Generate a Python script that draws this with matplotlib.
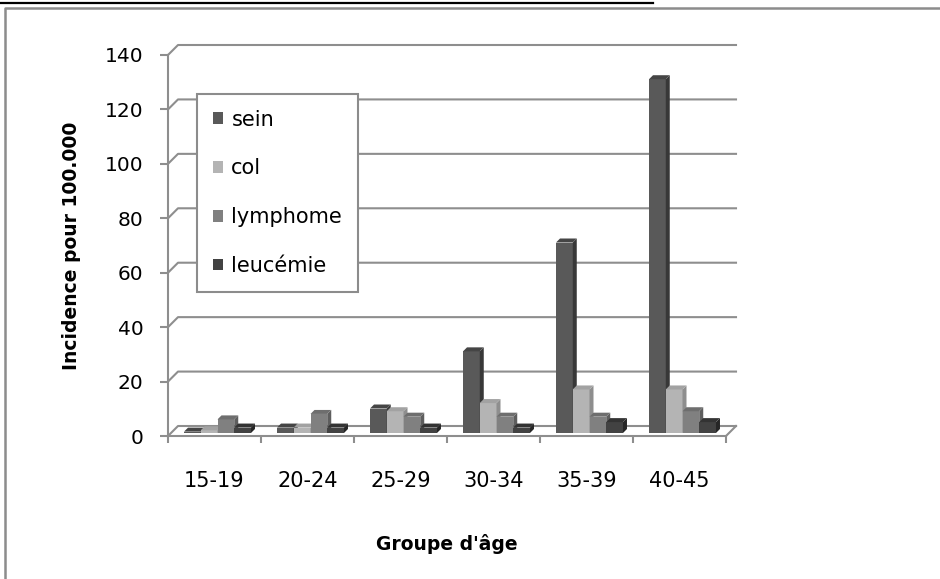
import matplotlib
matplotlib.use("Agg")
import matplotlib.pyplot as plt
from matplotlib.patches import Polygon, Patch
from matplotlib.lines import Line2D
from matplotlib.transforms import IdentityTransform

# ---------------------------------------------------------------------------
# Data
# ---------------------------------------------------------------------------
age_groups = ["15-19", "20-24", "25-29", "30-34", "35-39", "40-45"]
sein = [0.5, 2, 9, 30, 70, 130]
col = [1, 2, 8, 11, 16, 16]
lymphome = [5, 7, 6, 6, 6, 8]
leucemie = [2, 2, 2, 2, 4, 4]
series_names = ["sein", "col", "lymphome", "leucémie"]
y_ticks = [0, 20, 40, 60, 80, 100, 120, 140]

# colours: front face, side face, top face
front_colors = ["#595959", "#b4b4b4", "#808080", "#424242"]
side_colors = ["#383838", "#8e8e8e", "#5e5e5e", "#262626"]
top_colors = ["#454545", "#a2a2a2", "#6e6e6e", "#333333"]
GRID = "#8e8e8e"

plt.rcParams["font.family"] = "DejaVu Sans"

W, H = 940, 579
fig = plt.figure(figsize=(W / 100, H / 100), dpi=100)
fig.patch.set_facecolor("white")

# outer frame + cut-off underline of the caption above the chart
fig.add_artist(Line2D([0, 653 / W], [1 - 2.5 / H] * 2, transform=fig.transFigure,
                      color="black", lw=1.6))
fig.add_artist(Line2D([5 / W, 5 / W, 1], [0, 1 - 8 / H, 1 - 8 / H],
                      transform=fig.transFigure, color="#8c8c8c", lw=1.8))

ax = fig.add_axes([168 / W, 1 - 436 / H, 558 / W, 381 / H])
ax.set_xlim(0, len(age_groups))
ax.set_ylim(0, 140)
ax.patch.set_visible(False)
for s in ["top", "right"]:
    ax.spines[s].set_visible(False)
for s in ["left", "bottom"]:
    ax.spines[s].set_color(GRID)
    ax.spines[s].set_linewidth(1.5)
    ax.spines[s].set_zorder(1)

ax.set_yticks(y_ticks)
ax.tick_params(axis="y", direction="out", length=5.8, width=1.5, color=GRID,
               labelsize=14.5, pad=12)
ax.set_xticks([i + 0.5 for i in range(len(age_groups))])
ax.set_xticklabels(age_groups)
ax.set_xticks(range(len(age_groups) + 1), minor=True)
ax.tick_params(axis="x", which="major", length=0, labelsize=15, pad=25)
ax.tick_params(axis="x", which="minor", direction="out", length=5, width=1.5,
               color=GRID)

ax.set_xlabel("Groupe d'âge", fontsize=13.5, fontweight="bold", labelpad=31)
ax.set_ylabel("Incidence pour 100.000", fontsize=13.5, fontweight="bold", labelpad=17)

# ---------------------------------------------------------------------------
# Pseudo-3D: back wall gridlines, floor, bars
# ---------------------------------------------------------------------------
DEPTH = 10            # floor depth in pixels (right and up)
BAR_FRONT, BAR_BACK = 3, 7


def px(x, y):
    return ax.transData.transform((x, y))


def draw_line(pts, z=1):
    ax.add_line(Line2D([p[0] for p in pts], [p[1] for p in pts],
                       transform=IdentityTransform(), color=GRID, lw=1.5,
                       zorder=z, clip_on=False))


def draw_poly(pts, color, z):
    ax.add_patch(Polygon(pts, closed=True, facecolor=color, edgecolor="none",
                         transform=IdentityTransform(), zorder=z, clip_on=False))


n_cat = len(age_groups)
for v in y_ticks:
    x0, y0 = px(0, v)
    x1, y1 = px(n_cat, v)
    draw_line([(x0, y0), (x0 + DEPTH, y0 + DEPTH), (x1 + DEPTH, y1 + DEPTH)])
# right edge of the floor
xr, yr = px(n_cat, 0)
draw_line([(xr, yr), (xr + DEPTH, yr + DEPTH)])

series = [sein, col, lymphome, leucemie]
bar_w = 0.18
start = (1 - bar_w * len(series)) / 2
z = 3
for i in range(n_cat):
    for j, vals in enumerate(series):
        xa = i + start + j * bar_w
        bx0, by0 = px(xa, 0)
        bx1, by1 = px(xa + bar_w, vals[i])
        f, b = BAR_FRONT, BAR_BACK
        draw_poly([(bx0 + f, by0 + f), (bx1 + f, by0 + f),
                   (bx1 + f, by1 + f), (bx0 + f, by1 + f)], front_colors[j], z)
        draw_poly([(bx1 + f, by0 + f), (bx1 + b, by0 + b),
                   (bx1 + b, by1 + b), (bx1 + f, by1 + f)], side_colors[j], z + 0.1)
        draw_poly([(bx0 + f, by1 + f), (bx1 + f, by1 + f),
                   (bx1 + b, by1 + b), (bx0 + b, by1 + b)], top_colors[j], z + 0.1)
        z += 0.2

handles = [Patch(facecolor=c, edgecolor="none") for c in front_colors]
leg = ax.legend(handles, series_names, loc="upper left",
                bbox_to_anchor=(197 / W, 1 - 94 / H), bbox_transform=fig.transFigure,
                fontsize=15, frameon=True, fancybox=False, edgecolor="#8c8c8c",
                framealpha=1, handlelength=0.5, handleheight=0.5,
                handletextpad=0.4, labelspacing=1.38, borderpad=0.75,
                borderaxespad=0)
leg.get_frame().set_linewidth(1.5)
leg.set_zorder(20)

fig.savefig("out.png", dpi=100, facecolor="white")
